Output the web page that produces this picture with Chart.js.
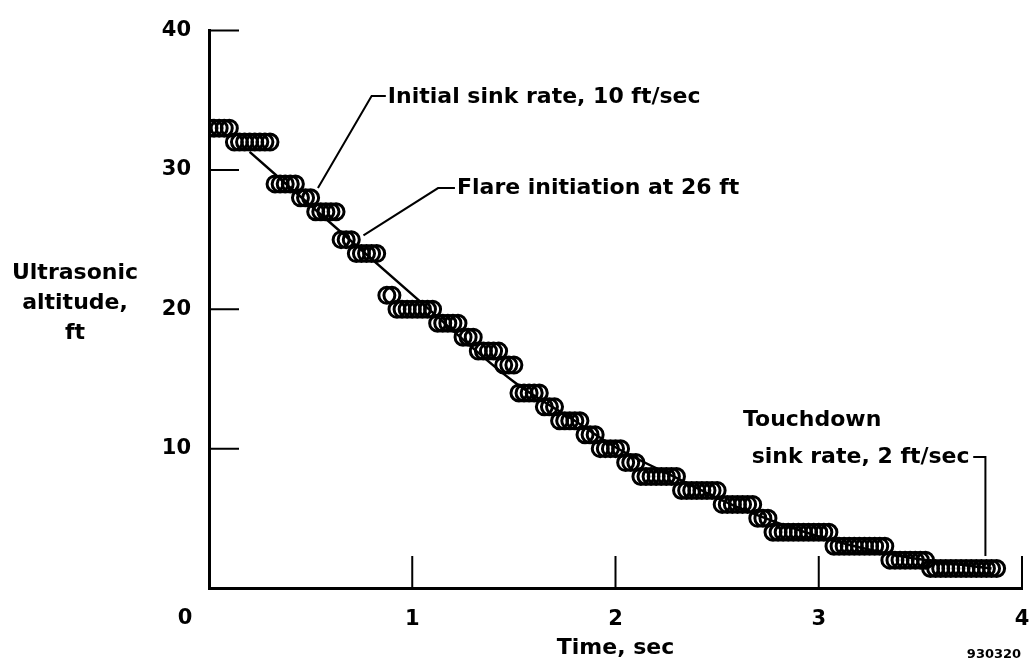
<!DOCTYPE html>
<html>
<head>
<meta charset="utf-8">
<script src="https://cdn.jsdelivr.net/npm/chart.js@4/dist/chart.umd.min.js"></script>
<style>
  html, body { margin: 0; padding: 0; background: #fff; }
</style>
</head>
<body>
<canvas id="alt" width="1034" height="671"></canvas>
<script>
// measured samples, ultrasonic altitude vs time
const timeSec = [
  0.000, 0.025, 0.050, 0.075, 0.100,
  0.125, 0.150, 0.175, 0.200, 0.225, 0.250, 0.275, 0.300,
  0.325, 0.350, 0.375, 0.400, 0.425,
  0.450, 0.475, 0.500,
  0.525, 0.550, 0.575, 0.600, 0.625,
  0.650, 0.675, 0.700,
  0.725, 0.750, 0.775, 0.800, 0.825,
  0.875, 0.900,
  0.925, 0.950, 0.975, 1.000, 1.025, 1.050, 1.075, 1.100,
  1.125, 1.150, 1.175, 1.200, 1.225,
  1.250, 1.275, 1.300,
  1.325, 1.350, 1.375, 1.400, 1.425,
  1.450, 1.475, 1.500,
  1.525, 1.550, 1.575, 1.600, 1.625,
  1.650, 1.675, 1.700,
  1.725, 1.750, 1.775, 1.800, 1.825,
  1.850, 1.875, 1.900,
  1.925, 1.950, 1.975, 2.000, 2.025,
  2.050, 2.075, 2.100,
  2.125, 2.150, 2.175, 2.200, 2.225, 2.250, 2.275, 2.300,
  2.325, 2.350, 2.375, 2.400, 2.425, 2.450, 2.475, 2.500,
  2.525, 2.550, 2.575, 2.600, 2.625, 2.650, 2.675,
  2.700, 2.725, 2.750,
  2.775, 2.800, 2.825, 2.850, 2.875, 2.900, 2.925, 2.950, 2.975, 3.000, 3.025, 3.050,
  3.075, 3.100, 3.125, 3.150, 3.175, 3.200, 3.225, 3.250, 3.275, 3.300, 3.325,
  3.350, 3.375, 3.400, 3.425, 3.450, 3.475, 3.500, 3.525,
  3.550, 3.575, 3.600, 3.625, 3.650, 3.675, 3.700, 3.725, 3.750, 3.775, 3.800, 3.825, 3.850, 3.875
];
const altitudeFt = [
  33, 33, 33, 33, 33,
  32, 32, 32, 32, 32, 32, 32, 32,
  29, 29, 29, 29, 29,
  28, 28, 28,
  27, 27, 27, 27, 27,
  25, 25, 25,
  24, 24, 24, 24, 24,
  21, 21,
  20, 20, 20, 20, 20, 20, 20, 20,
  19, 19, 19, 19, 19,
  18, 18, 18,
  17, 17, 17, 17, 17,
  16, 16, 16,
  14, 14, 14, 14, 14,
  13, 13, 13,
  12, 12, 12, 12, 12,
  11, 11, 11,
  10, 10, 10, 10, 10,
  9, 9, 9,
  8, 8, 8, 8, 8, 8, 8, 8,
  7, 7, 7, 7, 7, 7, 7, 7,
  6, 6, 6, 6, 6, 6, 6,
  5, 5, 5,
  4, 4, 4, 4, 4, 4, 4, 4, 4, 4, 4, 4,
  3, 3, 3, 3, 3, 3, 3, 3, 3, 3, 3,
  2, 2, 2, 2, 2, 2, 2, 2,
  1.4, 1.4, 1.4, 1.4, 1.4, 1.4, 1.4, 1.4, 1.4, 1.4, 1.4, 1.4, 1.4, 1.4
];
// faired curve through the samples
const fitTime = [0.20, 1.02, 1.50, 1.80, 2.00, 2.30, 2.60, 3.00, 3.40, 3.85];
const fitAlt  = [31.3, 20.8, 14.8, 12.0, 10.1, 7.9, 5.8, 3.7, 2.3, 1.4];

const xTicks = [0, 1, 2, 3, 4];
const yTicks = [0, 10, 20, 30, 40];
const yTitle = ['Ultrasonic', 'altitude,', 'ft'];
const notes = {
  initial: 'Initial sink rate, 10 ft/sec',
  flare: 'Flare initiation at 26 ft',
  touch1: 'Touchdown',
  touch2: 'sink rate, 2 ft/sec',
  fig: '930320'
};

const FONT = '"DejaVu Sans", Verdana, sans-serif';
const bold = (s) => ({ family: FONT, size: s, weight: 'bold' });

const extras = {
  id: 'extras',
  afterDraw(chart) {
    const c = chart.ctx, xs = chart.scales.x, ys = chart.scales.y;
    const X = (v) => xs.getPixelForValue(v), Y = (v) => ys.getPixelForValue(v);
    c.save();
    c.strokeStyle = '#000';
    c.fillStyle = '#000';
    // inward tick marks
    c.lineWidth = 2;
    c.beginPath();
    yTicks.filter(v => v > 0).forEach(v => { c.moveTo(X(0), Y(v)); c.lineTo(X(0) + 30, Y(v)); });
    xTicks.filter(v => v > 0).forEach(v => { c.moveTo(X(v), Y(0)); c.lineTo(X(v), Y(0) - 32); });
    c.stroke();

    // origin label
    c.font = 'bold 21px ' + FONT;
    c.textAlign = 'center';
    c.textBaseline = 'middle';
    c.fillText('0', X(0) - 24, Y(0) + 31);

    // y title
    c.font = 'bold 22px ' + FONT;
    yTitle.forEach((t, i) => c.fillText(t, 75, 273 + i * 30));

    // leaders
    c.lineWidth = 2;
    c.beginPath();
    c.moveTo(X(0.536), Y(28.7)); c.lineTo(X(0.80), Y(35.3)); c.lineTo(X(0.87), Y(35.3));
    c.moveTo(X(0.76), Y(25.3)); c.lineTo(X(1.127), Y(28.7)); c.lineTo(X(1.21), Y(28.7));
    c.moveTo(X(3.76), Y(9.4)); c.lineTo(X(3.82), Y(9.4)); c.lineTo(X(3.82), Y(2.3));
    c.stroke();

    c.textAlign = 'left';
    c.fillText(notes.initial, X(0.88), Y(35.2));
    c.fillText(notes.flare, X(1.22), Y(28.7));
    c.fillText(notes.touch1, X(2.627), Y(12.0));
    c.fillText(notes.touch2, X(2.67), Y(9.4));

    c.font = 'bold 13px ' + FONT;
    c.textAlign = 'center';
    c.fillText(notes.fig, 994, 655);
    c.restore();
  }
};

new Chart(document.getElementById('alt'), {
  type: 'scatter',
  data: {
    datasets: [
      {
        label: 'samples',
        data: timeSec.map((t, i) => ({ x: t, y: altitudeFt[i] })),
        pointStyle: 'circle',
        pointRadius: 8,
        pointBorderWidth: 3,
        borderColor: '#000',
        backgroundColor: 'rgba(0,0,0,0)',
        showLine: false
      },
      {
        label: 'fit',
        type: 'line',
        data: fitTime.map((t, i) => ({ x: t, y: fitAlt[i] })),
        borderColor: '#000',
        borderWidth: 2.5,
        pointRadius: 0,
        cubicInterpolationMode: 'monotone',
        fill: false
      }
    ]
  },
  options: {
    responsive: false,
    animation: false,
    devicePixelRatio: 1,
    layout: { padding: { left: 0, top: 23, right: 12, bottom: 0 } },
    plugins: { legend: { display: false }, tooltip: { enabled: false } },
    scales: {
      x: {
        type: 'linear',
        min: 0,
        max: 4,
        afterBuildTicks: (s) => { s.ticks = xTicks.map(v => ({ value: v })); },
        afterFit: (s) => { s.height = 83; s.paddingRight = 0; s.paddingLeft = 0; },
        grid: { display: false, drawTicks: false },
        border: { display: true, width: 3, color: '#000' },
        ticks: {
          color: '#000',
          font: bold(21),
          padding: 19,
          maxRotation: 0,
          callback: (v) => (v === 0 ? '' : v)
        },
        title: {
          display: true,
          text: 'Time, sec',
          color: '#000',
          font: bold(22),
          padding: { top: 0, bottom: 10 }
        }
      },
      y: {
        type: 'linear',
        min: 0,
        max: 40,
        afterBuildTicks: (s) => { s.ticks = yTicks.map(v => ({ value: v })); },
        afterFit: (s) => { s.width = 209; },
        grid: { display: false, drawTicks: false },
        border: { display: true, width: 3, color: '#000' },
        ticks: {
          color: '#000',
          font: bold(21),
          padding: 18,
          callback: (v) => (v === 0 ? '' : v)
        }
      }
    }
  },
  plugins: [extras]
});
</script>
</body>
</html>
